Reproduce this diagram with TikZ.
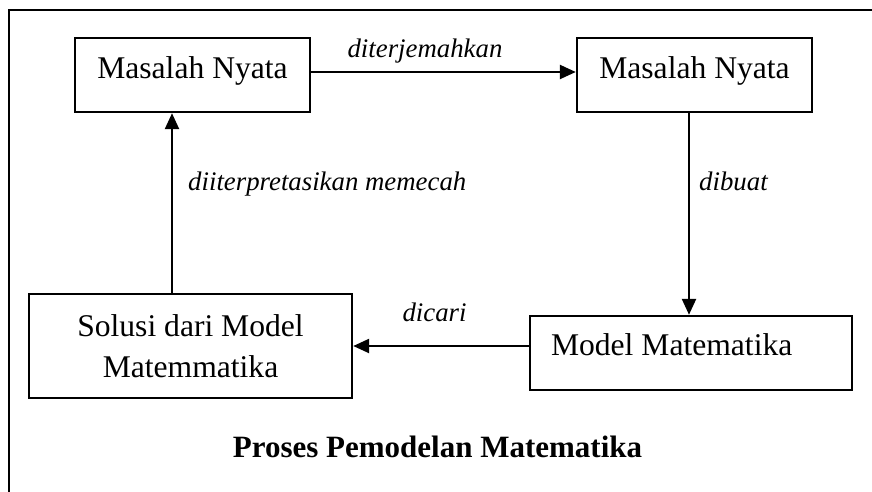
\documentclass[tikz,border=0pt]{standalone}
\usepackage{fontspec}
\setmainfont{Liberation Serif}
\usetikzlibrary{arrows.meta}

\begin{document}
\begin{tikzpicture}[x=0.5pt, y=-0.5pt,
  box/.style={draw, line width=1.2pt, inner xsep=0pt, inner ysep=0pt, font=\fontsize{15.8}{20.5}\selectfont},
  lbl/.style={inner sep=0pt, font=\fontsize{13.4}{16}\selectfont\itshape},
  flow/.style={line width=1.2pt, -{Triangle[length=8pt, width=7pt]}}]

\useasboundingbox (0,0) rectangle (872,492);

% outer frame
\draw[line width=1pt] (9,492) -- (9,10) -- (872,10);

% boxes
\node[box, minimum width=117.5pt, text height=20.5pt, text depth=16.5pt] (nyata1) at (192.5,75) {Masalah Nyata};
\node[box, minimum width=117.5pt, text height=20.5pt, text depth=16.5pt] (nyata2) at (694.5,75) {Masalah Nyata};
\node[box, text width=140pt, inner xsep=10.5pt, align=flush left, text height=19.5pt, text depth=17.5pt] (model) at (691,353) {Model Matematika};
\node[box, minimum width=161.5pt, minimum height=52pt, align=center] (solusi) at (190.5,346) {Solusi dari Model\\Matemmatika};

% arrows
\draw[flow] ([yshift=1.5pt]nyata1.east) -- ([yshift=1.5pt]nyata1.east -| nyata2.west)
  node[lbl, pos=0.43, anchor=base, yshift=7pt] {diterjemahkan};
\draw[flow] ([xshift=-2.75pt]nyata2.south) -- ([xshift=-2.75pt]nyata2.south |- model.north)
  node[lbl, pos=0.385, anchor=base west, xshift=4.5pt] {dibuat};
\draw[flow] (model.west |- solusi.east) -- (solusi.east)
  node[lbl, pos=0.537, anchor=base, yshift=12.5pt] {dicari};
\draw[flow] ([xshift=-9.25pt]solusi.north) -- ([xshift=-9.25pt]solusi.north |- nyata1.south)
  node[lbl, pos=0.571, anchor=base west, xshift=7.5pt] {diiterpretasikan memecah};

% caption
\node[font=\fontsize{15.5}{18}\selectfont\bfseries, anchor=base] (title) at (437.5,457) {Proses Pemodelan Matematika};

\end{tikzpicture}
\end{document}
